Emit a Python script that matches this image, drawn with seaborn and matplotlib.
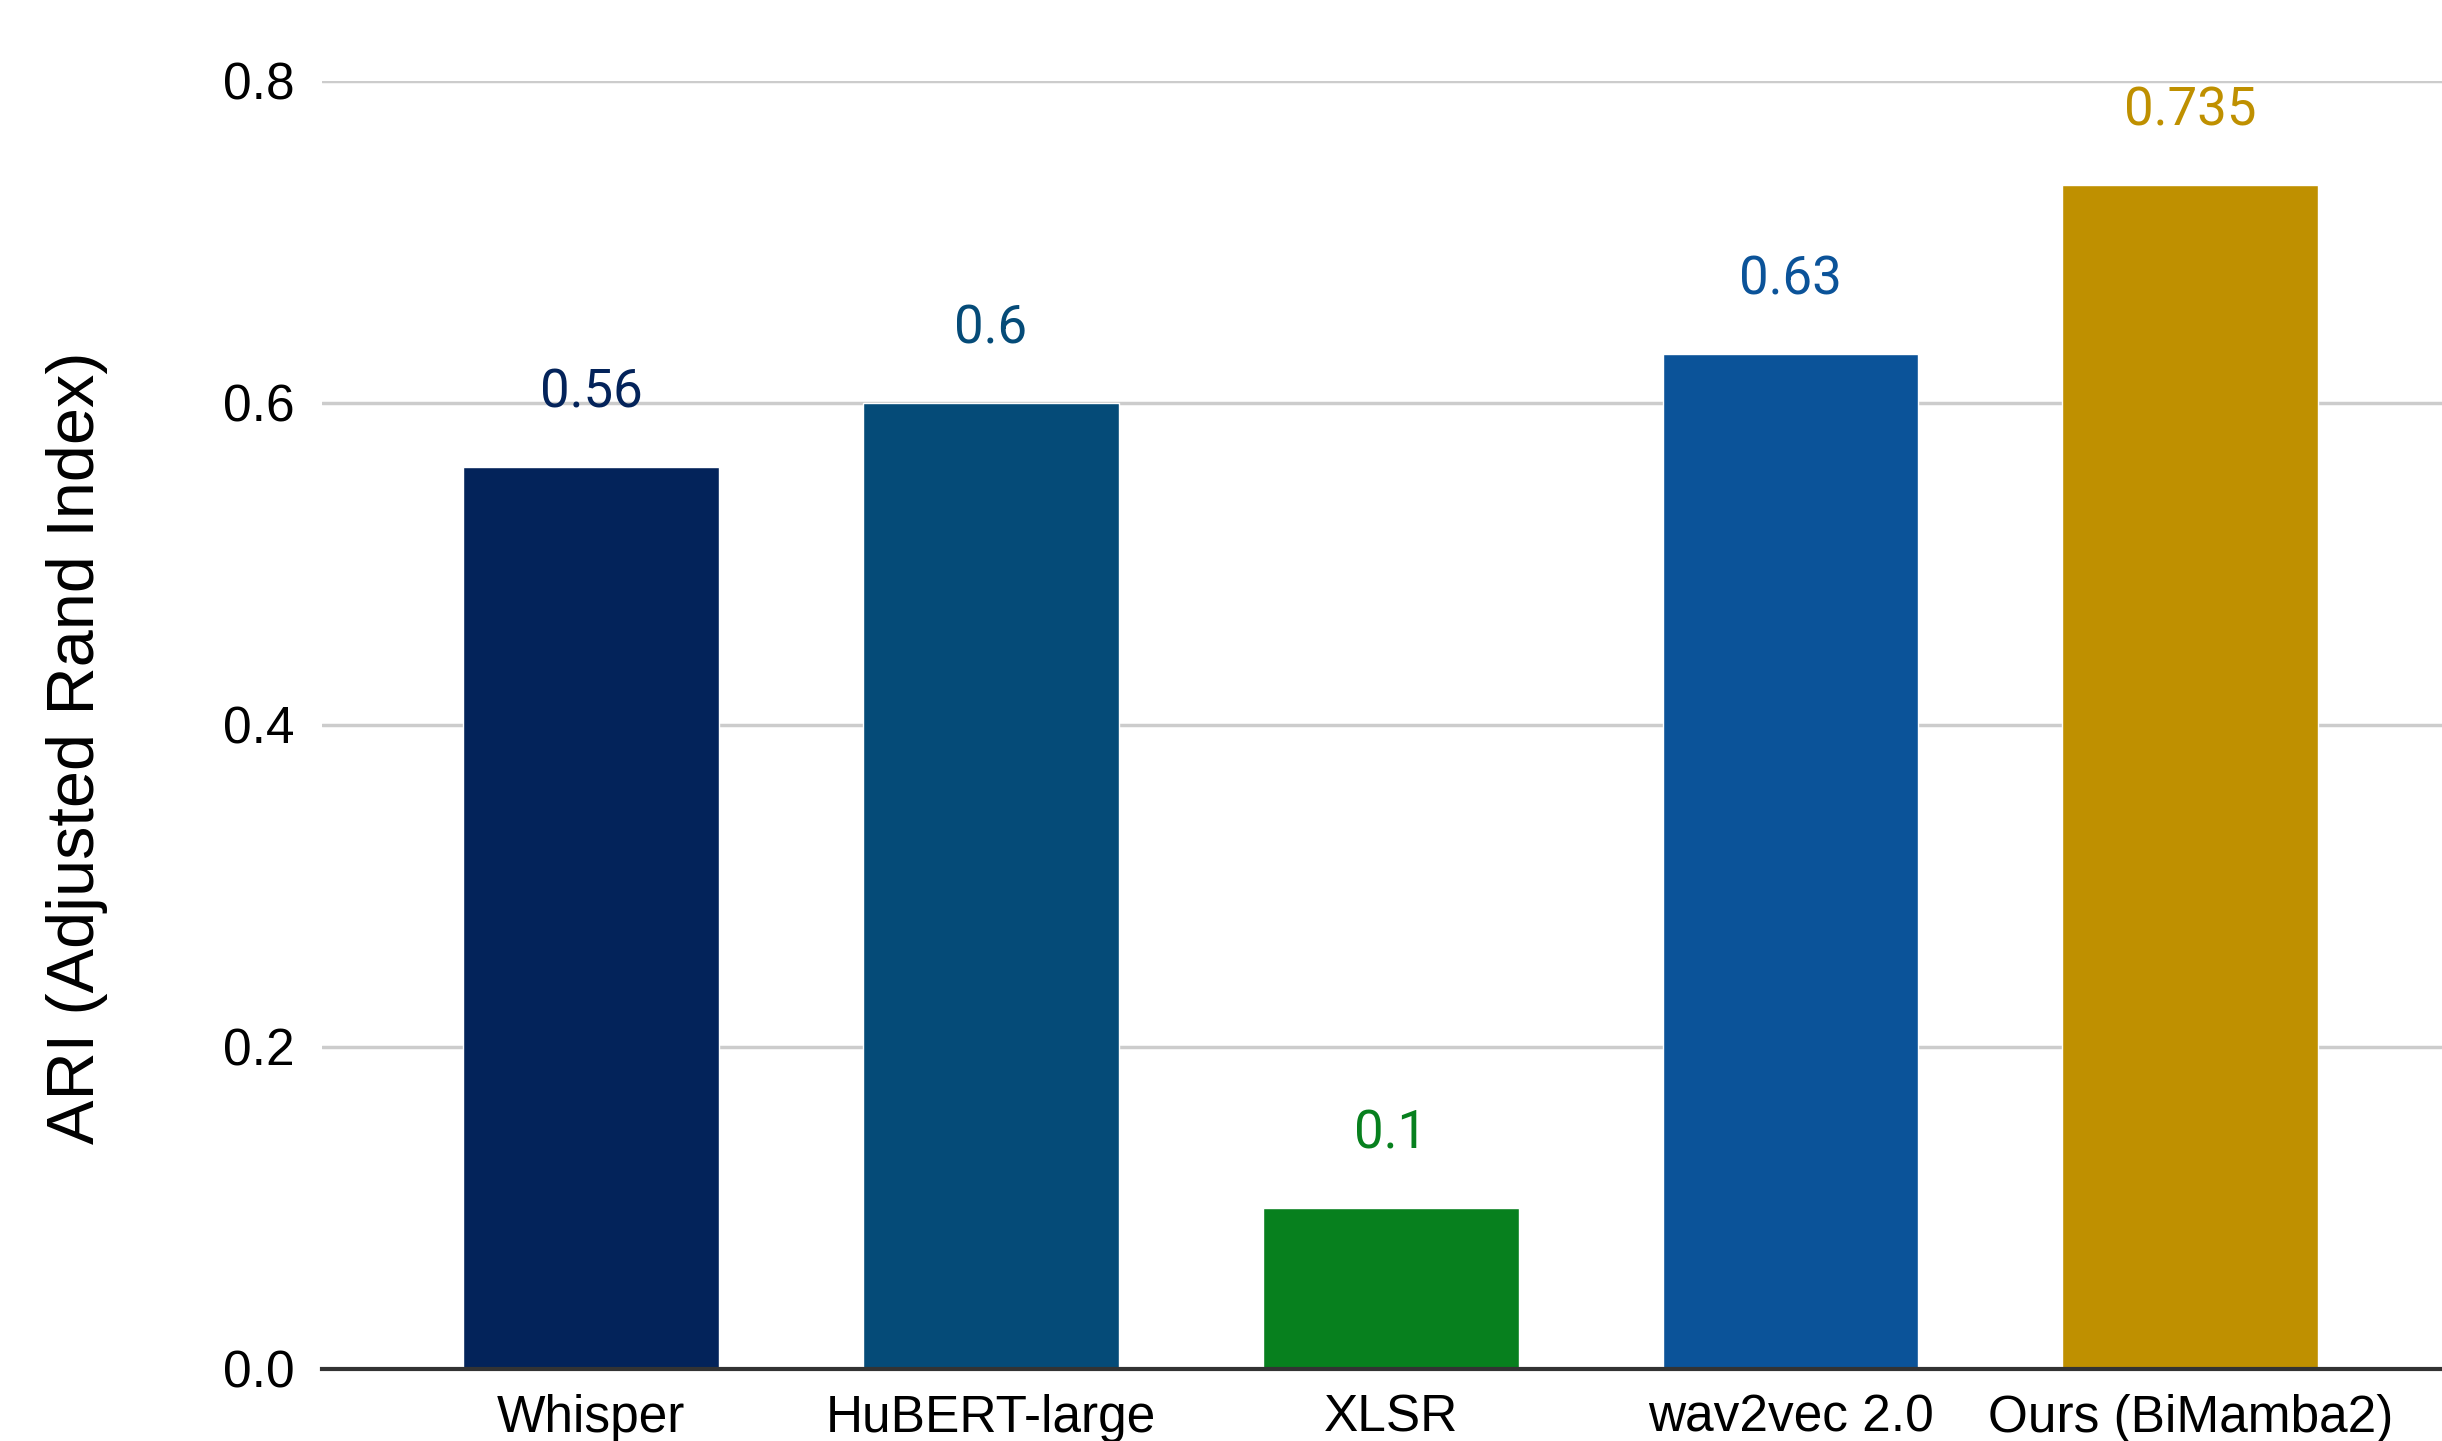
import numpy as np
import matplotlib
matplotlib.use('Agg')
import matplotlib.pyplot as plt
import seaborn as sns
import pandas as pd

# ARI scores per model
models = ['Whisper', 'HuBERT-large', 'XLSR', 'wav2vec 2.0', 'Ours (BiMamba2)']
ari = [0.56, 0.6, 0.1, 0.63, 0.735]
labels = ['0.56', '0.6', '0.1', '0.63', '0.735']
colors = ['#03235A', '#054B78', '#07801E', '#0B5399', '#BF9000']

df = pd.DataFrame({'model': models, 'ari': ari})

sns.set_style('white')
plt.rcParams['font.family'] = ['Liberation Sans', 'DejaVu Sans']

fig = plt.figure(figsize=(24.42, 14.41), dpi=100)
ax = fig.add_axes([0.132, 0.050, 0.868, 0.894])

sns.barplot(data=df, x='model', y='ari', hue='model', palette=colors,
            saturation=1, legend=False, width=0.64, ax=ax, zorder=3)

# value labels above bars, in bar colour
for i, (v, t) in enumerate(zip(ari, labels)):
    ax.text(i, v + 0.046, t, ha='center', va='center', color=colors[i],
            fontsize=38, family=['Roboto', 'DejaVu Sans'])

ax.set_ylim(0, 0.8)
ax.set_xlim(-0.673, 4.63)
ax.set_yticks([0.0, 0.2, 0.4, 0.6, 0.8])
ax.set_yticklabels(['0.0', '0.2', '0.4', '0.6', '0.8'])
ax.yaxis.grid(True, color='#CCCCCC', linewidth=2.5, zorder=0)
ax.set_axisbelow(True)
for s in ['top', 'right', 'left']:
    ax.spines[s].set_visible(False)
ax.spines['bottom'].set_color('#333333')
ax.spines['bottom'].set_linewidth(3)
ax.spines['bottom'].set_zorder(4)
ax.tick_params(axis='both', length=0, labelsize=37, colors='black')
ax.tick_params(axis='y', pad=20)
ax.tick_params(axis='x', pad=18)
ax.set_xlabel('')
ax.set_ylabel('ARI (Adjusted Rand Index)', fontsize=48, color='black')
ax.yaxis.set_label_coords(-0.101, 0.482)

fig.savefig('out.png', dpi=100)
